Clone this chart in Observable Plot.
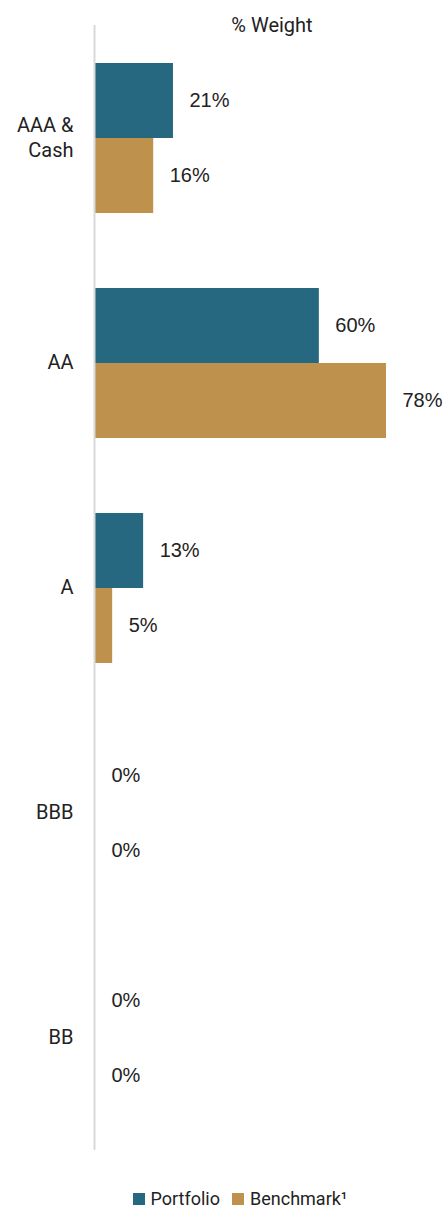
<!DOCTYPE html>
<html>
<head>
<meta charset="utf-8">
<script src="https://cdn.jsdelivr.net/npm/d3@7"></script>
<script src="https://cdn.jsdelivr.net/npm/@observablehq/plot@0.6"></script>
<style>
  html, body { margin: 0; padding: 0; background: #fff; }
  body { width: 446px; font-family: Roboto, "Noto Sans", sans-serif; color: #222; position: relative; }
  #title { position: absolute; left: 95px; width: 354px; top: 12px; text-align: center; font-size: 20px; line-height: 26px; }
  #legend { display: flex; justify-content: center; align-items: center; gap: 12px; font-size: 18px; line-height: 20px; padding-top: 29px; padding-left: 34px; }
  .item { display: flex; align-items: center; gap: 6px; }
  .sw { width: 12px; height: 12px; display: inline-block; }
</style>
</head>
<body>
<div id="title">% Weight</div>
<div id="chart"></div>
<div id="legend"></div>
<script>
const categories = ["AAA & Cash", "AA", "A", "BBB", "BB"];
const series = ["Portfolio", "Benchmark¹"];
const portfolio = [20.9, 60, 12.9, 0, 0];
const benchmark = [15.6, 78, 4.6, 0, 0];
const colors = ["#276881", "#be914d"];

const data = [];
categories.forEach((c, i) => {
  data.push({category: c, series: series[0], value: portfolio[i]});
  data.push({category: c, series: series[1], value: benchmark[i]});
});

const chart = Plot.plot({
  width: 446,
  height: 1160,
  marginTop: 25,
  marginBottom: 10,
  marginLeft: 95,
  marginRight: 60,
  style: {fontFamily: "Roboto, sans-serif", fontSize: "20px", color: "#222", background: "#fff"},
  x: {domain: [0, 78], axis: null},
  y: {domain: series, paddingInner: 0, paddingOuter: 0.5, axis: null},
  fy: {domain: categories, padding: 0, axis: null},
  color: {domain: series, range: colors},
  marks: [
    Plot.axisFy({anchor: "left", label: null, tickSize: 0, tickPadding: 22, fontSize: 20, lineHeight: 1.25, fill: "#222", dy: -2,
      tickFormat: d => d.replace(" & ", " &\n")}),
    Plot.barX(data, {fy: "category", y: "series", x: "value", fill: "series"}),
    Plot.ruleX([0], {stroke: "#d9d9d9", strokeWidth: 2, dx: -1}),
    Plot.text(data, {fy: "category", y: "series", x: "value", text: d => Math.round(d.value) + "%",
      textAnchor: "start", dx: 16, fill: "#222", fontSize: 20, fontFamily: "Liberation Sans, Arial, sans-serif"})
  ]
});
document.getElementById("chart").appendChild(chart);

const legend = document.getElementById("legend");
series.forEach((s, i) => {
  const item = document.createElement("span");
  item.className = "item";
  const sw = document.createElement("span");
  sw.className = "sw";
  sw.style.background = colors[i];
  const t = document.createElement("span");
  t.textContent = s;
  item.appendChild(sw);
  item.appendChild(t);
  legend.appendChild(item);
});
</script>
</body>
</html>
